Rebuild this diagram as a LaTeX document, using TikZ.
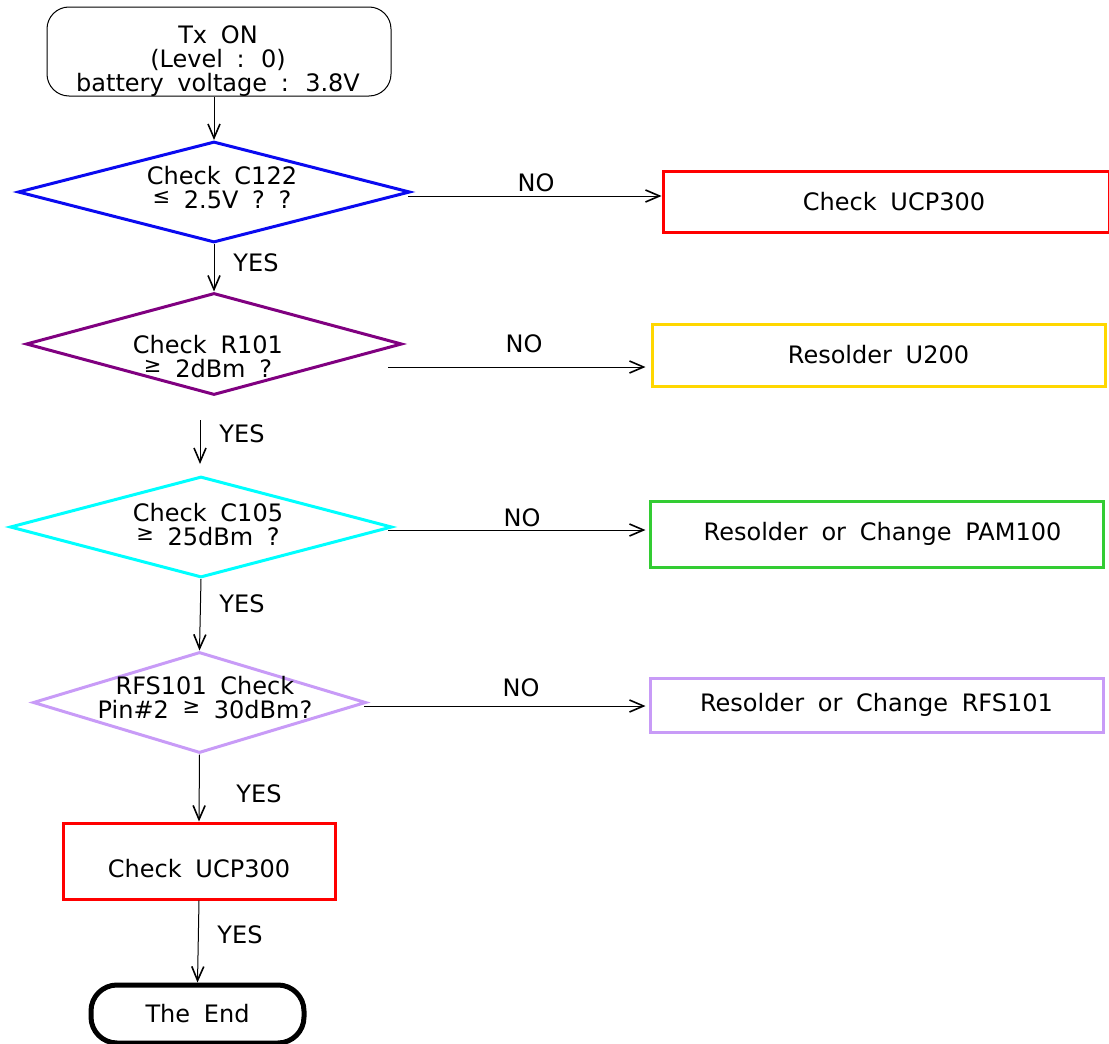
\documentclass[tikz,border=0pt]{standalone}
\usepackage{fontspec}
\setmainfont{DejaVu Sans}[WordSpace=1.8]
\usetikzlibrary{positioning, arrows.meta, shapes.geometric}
\definecolor{chkBlue}{HTML}{0A0AF0}
\definecolor{chkPurple}{HTML}{800080}
\definecolor{chkCyan}{HTML}{00FFFF}
\definecolor{chkLilac}{HTML}{C89BF7}
\definecolor{fixRed}{HTML}{FF0000}
\definecolor{fixGold}{HTML}{FFD700}
\definecolor{fixGreen}{HTML}{33CC33}
\newcommand\relsym[1]{\raisebox{2.5pt}{\fontsize{10.5}{10}\selectfont #1}}

\begin{document}
\begin{tikzpicture}[
  x=0.5pt, y=-0.5pt,
  txt/.style={font=\fontsize{12}{12}\selectfont, align=center, text=black, inner sep=0pt},
  start/.style={draw=black, line width=0.5pt, rounded corners=11pt, inner sep=0pt},
  check/.style={diamond, draw=#1, line width=1.5pt, inner sep=0pt, minimum height=50.5pt},
  fix/.style={txt, rectangle, draw=#1, line width=1.5pt, minimum width=226.5pt},
  finish/.style={txt, draw=black, line width=2.5pt, rounded corners=13pt,
    minimum width=106.5pt, minimum height=29pt},
  lbl/.style={txt},
  flow/.style={->, black, line width=0.5pt},
  >={Straight Barb[length=7pt, width=6pt, line width=0.8pt]}
]
  \useasboundingbox (0,0) rectangle (1109,1044);

  %% --- colonna sinistra: inizio, controlli, fine ---
  \node[start, minimum width=172pt, minimum height=44.5pt] (txon) at (219,51.5) {};
  \node[txt] (txont) at (218,61) {Tx ON\\(Level : 0)\\battery voltage : 3.8V};

  \node[check=chkBlue, minimum width=196pt] (c122) at (214,192) {};
  \node[txt] (c122t) at (222,188) {Check C122\\ \relsym{≤} 2.5V ? ?};

  \node[check=chkPurple, minimum width=188pt, minimum height=51pt] (r101) at (214,344) {};
  \node[txt] (r101t) at (208,357) {Check R101\\ \relsym{≥} 2dBm ?};

  \node[check=chkCyan, minimum width=191pt] (c105) at (201,527) {};
  \node[txt] (c105t) at (208,525) {Check C105\\ \relsym{≥} 25dBm ?};

  \node[check=chkLilac, minimum width=166.5pt] (rfs101) at (199.5,702.5) {};
  \node[txt] (rfs101t) at (205,698) {RFS101 Check\\Pin\#2 \relsym{≥} 30dBm?};

  \node[rectangle, draw=fixRed, line width=1.5pt, minimum width=136pt, minimum height=38pt]
    (ucpL) at (199,861) {};
  \node[txt] (ucpLt) at (199,869) {Check UCP300};

  \node[finish] (theend) at (197.5,1014) {The End};

  %% --- colonna destra: interventi ---
  \node[fix=fixRed, minimum width=223pt, minimum height=30.5pt] (ucpR) at (886,201.5)
    {\hspace*{8pt}\raisebox{-3pt}{Check UCP300}};
  \node[fix=fixGold, minimum height=31pt] (u200) at (878.5,355) {Resolder U200};
  \node[fix=fixGreen, minimum height=33pt] (pam100) at (876.5,534)
    {\hspace*{6pt}\raisebox{-1.5pt}{Resolder or Change PAM100}};
  \node[fix=chkLilac, minimum height=27pt] (rfsfix) at (876.5,705) {Resolder or Change RFS101};

  %% --- partenze dei rami NO e del ramo YES staccato ---
  \coordinate (no1) at (408,196);
  \coordinate (no2) at (388,367);
  \coordinate (no3) at (388,530);
  \coordinate (no4) at (364,706);
  \coordinate (yes2) at (200,420);

  %% --- frecce ---
  \draw[flow] (c122.north |- txon.south) -- (c122.north);
  \draw[flow] (c122.south) -- (r101.north);
  \draw[flow, shorten >=5.5pt] (yes2) -- (yes2 |- c105.north);
  \draw[flow] (c105.south) -- (rfs101.north);
  \draw[flow] (rfs101.south) -- (ucpL.north);
  \draw[flow] (ucpL.south) -- (theend.north);

  \draw[flow] (no1) -- (no1 -| ucpR.west);
  \draw[flow, shorten >=2.5pt] (no2) -- (no2 -| u200.west);
  \draw[flow, shorten >=1.5pt] (no3) -- (no3 -| pam100.west);
  \draw[flow, shorten >=1.5pt] (no4) -- (no4 -| rfsfix.west);

  %% --- etichette YES / NO ---
  \node[lbl] (yesA) at (256,263) {YES};
  \node[lbl] (yesB) at (242,434) {YES};
  \node[lbl] (yesC) at (242,604) {YES};
  \node[lbl] (yesD) at (259,794) {YES};
  \node[lbl] (yesE) at (240,935) {YES};
  \node[lbl] (noA) at (536,183) {NO};
  \node[lbl] (noB) at (524,344) {NO};
  \node[lbl] (noC) at (522,518) {NO};
  \node[lbl] (noD) at (521,688) {NO};
\end{tikzpicture}
\end{document}
